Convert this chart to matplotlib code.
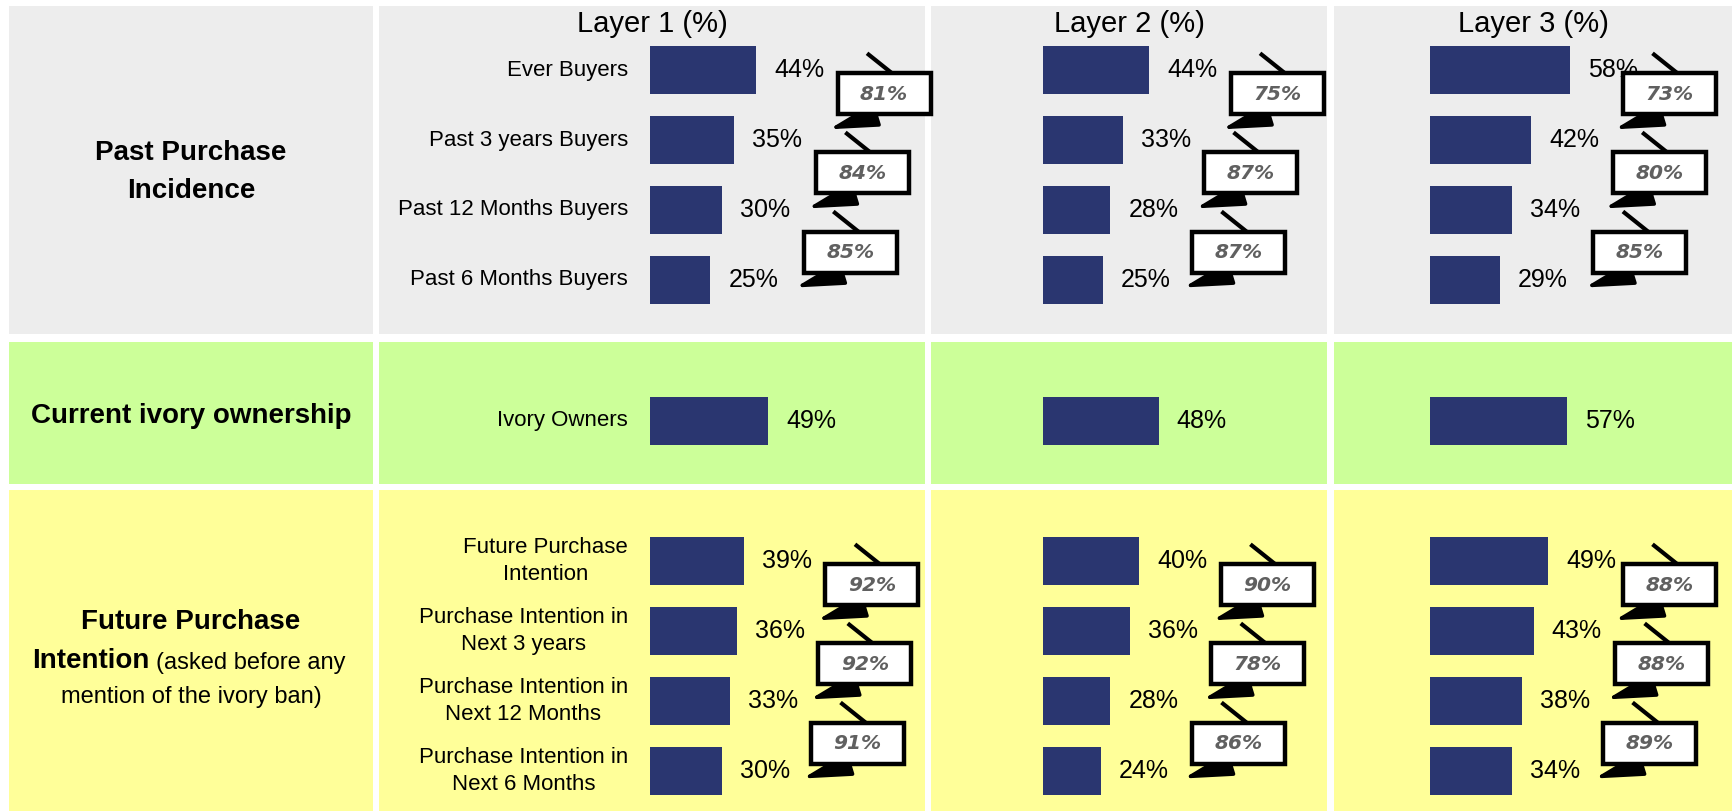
import matplotlib
matplotlib.use("Agg")
import matplotlib.pyplot as plt
from matplotlib.patches import Rectangle, FancyArrowPatch

# data
layers = ["Layer 1 (%)", "Layer 2 (%)", "Layer 3 (%)"]

past_labels = ["Ever Buyers", "Past 3 years Buyers", "Past 12 Months Buyers", "Past 6 Months Buyers"]
past_values = [[44, 35, 30, 25], [44, 33, 28, 25], [58, 42, 34, 29]]
past_conv = [[81, 84, 85], [75, 87, 87], [73, 80, 85]]

own_labels = ["Ivory Owners"]
own_values = [[49], [48], [57]]

future_labels = ["Future Purchase\nIntention", "Purchase Intention in\nNext 3 years",
                 "Purchase Intention in\nNext 12 Months", "Purchase Intention in\nNext 6 Months"]
future_values = [[39, 36, 33, 30], [40, 36, 28, 24], [49, 43, 38, 34]]
future_conv = [[92, 92, 91], [90, 78, 86], [88, 88, 89]]

W, H = 1734, 811
NAVY = "#2A3670"
FONT = "Liberation Sans"
PPP = 2.41  # pixels per percent

fig = plt.figure(figsize=(W / 100, H / 100), dpi=100)
bg = fig.add_axes([0, 0, 1, 1])
bg.set_xlim(0, W)
bg.set_ylim(H, 0)
bg.axis("off")

cols = [(9, 373), (379, 925), (931, 1327), (1334, 1732)]
rows = [(6, 334), (342, 484), (490, 811)]
row_colors = ["#EDEDED", "#CCFF99", "#FFFF99"]
for (y0, y1), colr in zip(rows, row_colors):
    for x0, x1 in cols:
        bg.add_patch(Rectangle((x0, y0), x1 - x0, y1 - y0, color=colr, lw=0))

for c, name in enumerate(layers):
    x0, x1 = cols[c + 1]
    bg.text((x0 + x1) / 2, 24, name, ha="center", va="center", fontsize=21, family=FONT)

# left-hand titles
bg.text(191, 172, "Past Purchase\nIncidence", ha="center", va="center", fontsize=20,
        weight="bold", family=FONT, linespacing=1.58)
bg.text(191, 416, "Current ivory ownership", ha="center", va="center", fontsize=20,
        weight="bold", family=FONT)
bg.text(191, 622, "Future Purchase", ha="center", va="center", fontsize=20,
        weight="bold", family=FONT)
bg.text(150, 661, "Intention", ha="right", va="center", fontsize=20, weight="bold", family=FONT)
bg.text(156, 663, "(asked before any", ha="left", va="center", fontsize=17, family=FONT)
bg.text(191, 697, "mention of the ivory ban)", ha="center", va="center", fontsize=17, family=FONT)

bar_start = [650, 1043, 1430]
blocks = [
    (35, past_labels, past_values, past_conv),
    (385.5, own_labels, own_values, None),
    (526, future_labels, future_values, future_conv),
]
SLOT = 70.0


def draw_box(ax, cx, cy, txt):
    bw, bh = 93 / PPP, 41 / SLOT
    ax.plot([cx + 8 / PPP, cx - 17 / PPP], [cy - bh / 2, cy - bh / 2 - 20 / SLOT],
            color="black", lw=3, solid_capstyle="butt", clip_on=False, zorder=4)
    arr = FancyArrowPatch((cx - 6 / PPP, cy + bh / 2), (cx - 55 / PPP, cy + bh / 2 + 15 / SLOT),
                          arrowstyle="-|>,head_length=2.0,head_width=0.5", mutation_scale=15,
                          color="black", lw=2.6, shrinkA=0, shrinkB=0, clip_on=False, zorder=4)
    ax.add_patch(arr)
    ax.add_patch(Rectangle((cx - bw / 2, cy - bh / 2), bw, bh, facecolor="white",
                           edgecolor="black", lw=3.2, clip_on=False, zorder=5))
    ax.text(cx, cy + 0.01, txt, ha="center", va="center", fontsize=14.5, color="#606060",
            style="italic", weight="bold", family="DejaVu Sans", zorder=6)


for top, labels, values, conv in blocks:
    n = len(labels)
    for c in range(3):
        xs = bar_start[c]
        xr = cols[c + 1][1]
        ax = fig.add_axes([xs / W, 1 - (top + SLOT * n) / H, (xr - xs) / W, SLOT * n / H])
        ax.set_xlim(0, (xr - xs) / PPP)
        ax.set_ylim(n - 0.5, -0.5)
        ax.axis("off")
        ax.patch.set_alpha(0)
        vals = values[c]
        ax.barh(range(n), vals, height=48 / SLOT, color=NAVY)
        for i, v in enumerate(vals):
            ax.text(v + 18 / PPP, i, f"{v}%", ha="left", va="center", fontsize=18,
                    family=FONT, clip_on=False)
        if c == 0:
            for i, lab in enumerate(labels):
                ax.text(-22 / PPP, i, lab, ha="right", va="center", multialignment="center",
                        fontsize=16, family=FONT, linespacing=1.32, clip_on=False)
        if conv is not None:
            xlimit = (W - 18 - xs) / PPP - 46.5 / PPP
            for i, p in enumerate(conv[c]):
                cx = min(vals[i] + 128 / PPP, xlimit)
                cy = i + 0.34 + 0.13 * i
                draw_box(ax, cx, cy, f"{p}%")

fig.savefig("out.png", dpi=100)
